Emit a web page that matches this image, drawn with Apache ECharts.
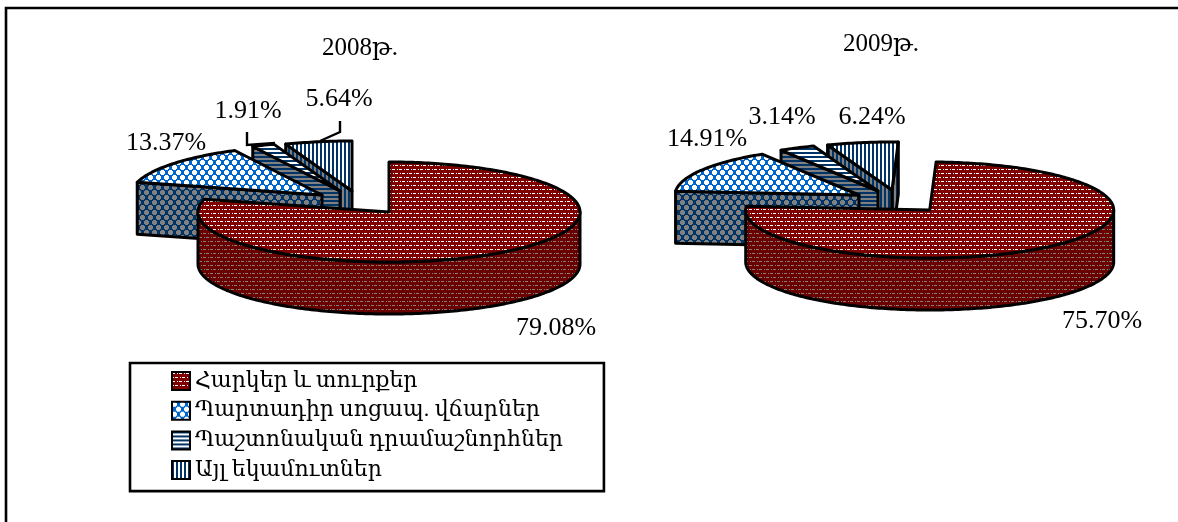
<!DOCTYPE html>
<html><head><meta charset="utf-8">
<style>html,body{margin:0;padding:0;background:#fff}#c{width:1178px;height:522px}</style>
<script src="https://cdn.jsdelivr.net/npm/echarts@6/dist/echarts.min.js"></script>
</head><body><div id="c"></div>
<script>
const categories = ['Հարկեր և տուրքեր','Պարտադիր սոցապ. վճարներ','Պաշտոնական դրամաշնորհներ','Այլ եկամուտներ'];
const values2008 = [79.08, 13.37, 1.91, 5.64];
const values2009 = [75.70, 14.91, 3.14, 6.24];
const titles = ['2008թ.', '2009թ.'];

const FONT = '"Liberation Serif","DejaVu Serif",serif';
const NAVY = '#003366', GRAY = '#808080', BLUE = '#0066cc', RED = '#800000';

function tile(w, h, bg, draw) {
  const c = document.createElement('canvas'); c.width = w; c.height = h;
  const g = c.getContext('2d'); g.fillStyle = bg; g.fillRect(0, 0, w, h); draw(g);
  return { image: c, repeat: 'repeat' };
}
function brick(bg, fg) {
  return tile(7, 8, bg, g => { g.fillStyle = fg;
    g.fillRect(0, 1, 3, 1); g.fillRect(5, 1, 1, 1);
    g.fillRect(3, 5, 3, 1); g.fillRect(1, 5, 1, 1); });
}
function plus(bg, fg) {
  const W = 8, H = 10;
  return tile(W, H, bg, g => { g.fillStyle = fg;
    const dot = (x, y) => g.fillRect(((x % W) + W) % W, ((y % H) + H) % H, 1, 1);
    [[2, 2], [6, 7]].forEach(([cx, cy]) => {
      for (let dx = -2; dx <= 2; dx++) for (let dy = -1; dy <= 1; dy++) dot(cx + dx, cy + dy);
      for (let dx = -1; dx <= 1; dx++) { dot(cx + dx, cy - 2); dot(cx + dx, cy + 2); }
    });
  });
}
function hstripe(a, b) { return tile(4, 4, a, g => { g.fillStyle = b; g.fillRect(0, 0, 4, 2); }); }
function vstripe(a, b) { return tile(4, 4, a, g => { g.fillStyle = b; g.fillRect(0, 0, 2, 4); }); }

const topFill = [brick(RED, '#ffffff'), plus(BLUE, '#ffffff'), hstripe('#ffffff', NAVY), vstripe('#ffffff', NAVY)];
const wallFill = [brick('#6a0000', GRAY), plus(NAVY, GRAY), hstripe(GRAY, NAVY), vstripe(GRAY, NAVY)];

const pies = [
  { values: values2008, cx: 389, cy: 212, rx: 191, ry: 50, depth: 52, rot: 0,
    offset: [[0, 0], [-67, -17], [-49, -21], [-37, -21]],
    label: [[556, 328], [166, 143], [248, 111], [339, 99]],
    leader: [null, null, [[247, 132], [247, 145], [275, 143]], [[340, 121], [340, 132], [320, 141]]] },
  { values: values2009, cx: 929.7, cy: 210, rx: 184, ry: 48, depth: 52, rot: 2,
    offset: [[0, 0], [-70.7, -15], [-51.7, -19], [-37.7, -20]],
    label: [[1102, 321], [707, 139], [782, 117], [872, 117]],
    leader: [null, null, null, null] }
];

const rad = d => d * Math.PI / 180;
function renderItem(pie, idx) {
  return function (params, api) {
    const share = api.value(0);
    let before = 0;
    for (let i = 0; i < idx; i++) before += pie.values[i];
    const a0 = pie.rot + before * 3.6, a1 = a0 + share * 3.6;
    const c = api.coord([pie.cx + pie.offset[idx][0], pie.cy + pie.offset[idx][1]]);
    const pt = (a, dy) => [c[0] + pie.rx * Math.sin(rad(a)), c[1] - pie.ry * Math.cos(rad(a)) + (dy || 0)];
    const arc = (s, e, dy) => { const o = []; const n = Math.max(2, Math.ceil((e - s))); for (let i = 0; i <= n; i++) o.push(pt(s + (e - s) * i / n, dy)); return o; };
    const line = { stroke: '#000', lineWidth: 3, lineJoin: 'round' };
    const kids = [];
    const wall = pts => kids.push({ type: 'polygon', shape: { points: pts }, style: Object.assign({ fill: wallFill[idx] }, line) });
    const d = pie.depth;
    const cDown = [c[0], c[1] + d];
    if (Math.sin(rad(a0)) < -1e-6) wall([c, pt(a0), pt(a0, d), cDown]);
    if (Math.sin(rad(a1)) > 1e-6) wall([c, pt(a1), pt(a1, d), cDown]);
    const f0 = Math.max(a0, 90), f1 = Math.min(a1, 270);
    if (f1 > f0) wall(arc(f0, f1).concat(arc(f0, f1, d).reverse()));
    kids.push({ type: 'polygon', shape: { points: [c].concat(arc(a0, a1)) }, style: Object.assign({ fill: topFill[idx] }, line) });
    if (pie.leader[idx]) kids.push({ type: 'polyline', shape: { points: pie.leader[idx].map(p => api.coord(p)) }, style: { stroke: '#000', lineWidth: 2.4, fill: 'none' } });
    const lp = api.coord(pie.label[idx]);
    kids.push({ type: 'text', style: { text: share.toFixed(2) + '%', x: lp[0], y: lp[1], align: 'center', verticalAlign: 'middle', font: '26px ' + FONT, fill: '#000' } });
    return { type: 'group', children: kids };
  };
}

const series = [];
pies.forEach(pie => {
  [3, 2, 1, 0].forEach(idx => series.push({
    type: 'custom', name: categories[idx], clip: false, silent: true,
    itemStyle: { color: topFill[idx] },
    renderItem: renderItem(pie, idx),
    encode: { x: 0, y: 0 },
    data: [[pie.values[idx]]]
  }));
});

const chart = echarts.init(document.getElementById('c'), null, { renderer: 'canvas' });
chart.setOption({
  animation: false,
  backgroundColor: '#fff',
  grid: { left: 0, right: 0, top: 0, bottom: 0 },
  xAxis: { type: 'value', min: 0, max: 1178, show: false },
  yAxis: { type: 'value', min: 0, max: 522, inverse: true, show: false },
  title: [
    { text: titles[0], left: 360, top: 48, textAlign: 'center', textVerticalAlign: 'middle', padding: 0, textStyle: { fontFamily: FONT, fontSize: 25, fontWeight: 'normal', color: '#000' } },
    { text: titles[1], left: 881, top: 44, textAlign: 'center', textVerticalAlign: 'middle', padding: 0, textStyle: { fontFamily: FONT, fontSize: 25, fontWeight: 'normal', color: '#000' } }
  ],
  legend: {
    data: categories, orient: 'vertical', left: 130, top: 363, align: 'left',
    padding: [7, 41, 10, 41], itemWidth: 18, itemHeight: 18, itemGap: 7.7,
    borderColor: '#000', borderWidth: 2.6, backgroundColor: '#fff',
    icon: 'rect', selectedMode: false,
    itemStyle: { borderColor: '#000', borderWidth: 2 },
    textStyle: { fontFamily: FONT, fontSize: 22, color: '#000' }
  },
  graphic: [
    { type: 'polyline', shape: { points: [[6, 522], [6, 8], [1178, 8]] }, style: { stroke: '#000', lineWidth: 2.6, fill: 'none' }, z: 10 }
  ],
  series
});
</script></body></html>
